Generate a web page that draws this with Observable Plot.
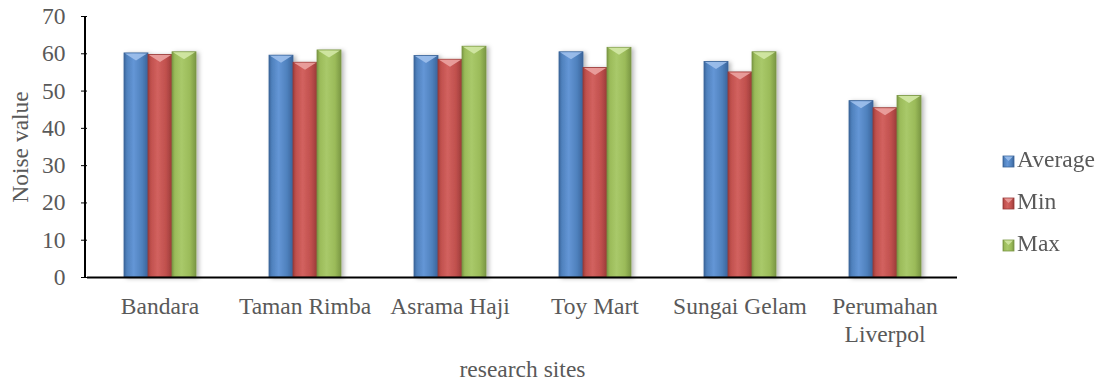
<!DOCTYPE html>
<html>
<head>
<meta charset="utf-8">
<script src="https://cdn.jsdelivr.net/npm/d3@7"></script>
<script src="https://cdn.jsdelivr.net/npm/@observablehq/plot@0.6"></script>
<style>
  body { margin: 0; background: #fff; }
  #chart { width: 1104px; height: 382px; }
</style>
</head>
<body>
<div id="chart"></div>
<script>
// Measurement sites and noise levels (dB) per site
const sites = ["Bandara", "Taman Rimba", "Asrama Haji", "Toy Mart", "Sungai Gelam", "Perumahan Liverpol"];
const siteLabels = ["Bandara", "Taman Rimba", "Asrama Haji", "Toy Mart", "Sungai Gelam", "Perumahan\nLiverpol"];
const seriesNames = ["Average", "Min", "Max"];
const averageValues = [60.1, 59.5, 59.4, 60.4, 57.8, 47.3];
const minValues = [59.7, 57.6, 58.4, 56.2, 55.0, 45.4];
const maxValues = [60.4, 60.9, 61.9, 61.6, 60.4, 48.7];
const seriesColors = ["#4f81bd", "#c0504d", "#9bbb59"];
const yTicks = [0, 10, 20, 30, 40, 50, 60, 70];

const seriesValues = [averageValues, minValues, maxValues];
const rows = sites.flatMap((site, i) =>
  seriesNames.map((series, k) => ({site, series, value: seriesValues[k][i]}))
);

const font = "'Liberation Serif', 'Times New Roman', serif";
const textColor = "#595959";

const plot = Plot.plot({
  width: 1104,
  height: 382,
  marginLeft: 85,
  marginRight: 145,
  marginTop: 16,
  marginBottom: 105,
  style: {fontFamily: font, fontSize: "23.5px", color: textColor, background: "white", overflow: "visible"},
  fx: {domain: sites, padding: 0},
  x: {domain: seriesNames, paddingInner: 0, paddingOuter: 1.41, axis: null},
  y: {domain: [0, 70]},
  color: {domain: seriesNames, range: seriesColors},
  marks: [
    Plot.barY(rows, {fx: "site", x: "series", y: "value", fill: "series"}),
    Plot.ruleY([0], {stroke: "black", strokeWidth: 2}),
    Plot.axisY({
      ticks: yTicks, tickSize: 6, tickPadding: 16, stroke: "black", fill: textColor,
      label: "Noise value", labelAnchor: "center", labelOffset: 76, labelArrow: false
    }),
    Plot.axisFx({
      anchor: "bottom",
      tickSize: 0, tickPadding: 17, fill: textColor, lineHeight: 1.17,
      tickFormat: (d) => siteLabels[sites.indexOf(d)],
      label: "research sites", labelAnchor: "center", labelOffset: 99, labelArrow: false
    })
  ]
});

document.getElementById("chart").appendChild(plot);

// ---- bevelled, shaded bar styling ----
const svg = d3.select(plot);
const defs = svg.insert("defs", ":first-child");

const shades = {
  "#4f81bd": {edge: "#3a649a", mid: "#4f81bd", light: "#6496d6", top: "#9ec0ec"},
  "#c0504d": {edge: "#9a3b39", mid: "#c0504d", light: "#d2625f", top: "#eba3a1"},
  "#9bbb59": {edge: "#7a9744", mid: "#9bbb59", light: "#a9c96a", top: "#d3e8a6"}
};

Object.entries(shades).forEach(([c, s], i) => {
  const g = defs.append("linearGradient").attr("id", "barShade" + i)
    .attr("x1", 0).attr("x2", 1).attr("y1", 0).attr("y2", 0);
  [[0, s.edge], [0.12, s.mid], [0.4, s.light], [0.75, s.mid], [1, s.edge]].forEach(([o, col]) =>
    g.append("stop").attr("offset", o).attr("stop-color", col));
});

const shadow = defs.append("filter").attr("id", "barShadow")
  .attr("x", "-20%").attr("y", "-5%").attr("width", "150%").attr("height", "115%");
shadow.append("feDropShadow").attr("dx", 2.5).attr("dy", 1).attr("stdDeviation", 2)
  .attr("flood-color", "#000").attr("flood-opacity", 0.28);

const barGroup = svg.select('g[aria-label="bar"]');
barGroup.attr("filter", "url(#barShadow)");
const colorKeys = Object.keys(shades);
barGroup.selectAll("rect").each(function () {
  const r = d3.select(this);
  const c = (r.attr("fill") || "").toLowerCase();
  const k = colorKeys.indexOf(c);
  if (k < 0) return;
  const s = shades[c];
  r.attr("fill", `url(#barShade${k})`).attr("stroke", s.edge).attr("stroke-width", 0.8);
  const x = +r.attr("x"), y = +r.attr("y"), w = +r.attr("width");
  d3.select(this.parentNode).append("polygon")
    .attr("points", `${x + 1},${y + 0.5} ${x + w - 1},${y + 0.5} ${x + w / 2},${y + 7.5}`)
    .attr("fill", s.top).attr("opacity", 0.9);
});

// vertical axis line
const yScale = plot.scale("y");
svg.append("line")
  .attr("x1", 85).attr("x2", 85)
  .attr("y1", yScale.apply(0) + 1).attr("y2", yScale.apply(70))
  .attr("stroke", "black").attr("stroke-width", 2);

// legend on the right
const legend = svg.append("g").attr("font-family", font).attr("font-size", 23.5)
  .attr("fill", textColor).attr("text-anchor", "start");
seriesNames.forEach((name, i) => {
  const base = 167 + i * 42;
  const item = legend.append("g");
  item.append("rect").attr("x", 1003).attr("y", base - 11).attr("width", 11).attr("height", 11)
    .attr("fill", `url(#barShade${i})`).attr("stroke", shades[seriesColors[i]].edge).attr("stroke-width", 0.8);
  item.append("polygon")
    .attr("points", `${1004},${base - 10.5} ${1013},${base - 10.5} ${1008.5},${base - 6}`)
    .attr("fill", shades[seriesColors[i]].top).attr("opacity", 0.85);
  item.append("text").attr("x", 1017).attr("y", base).text(name);
});
</script>
</body>
</html>
